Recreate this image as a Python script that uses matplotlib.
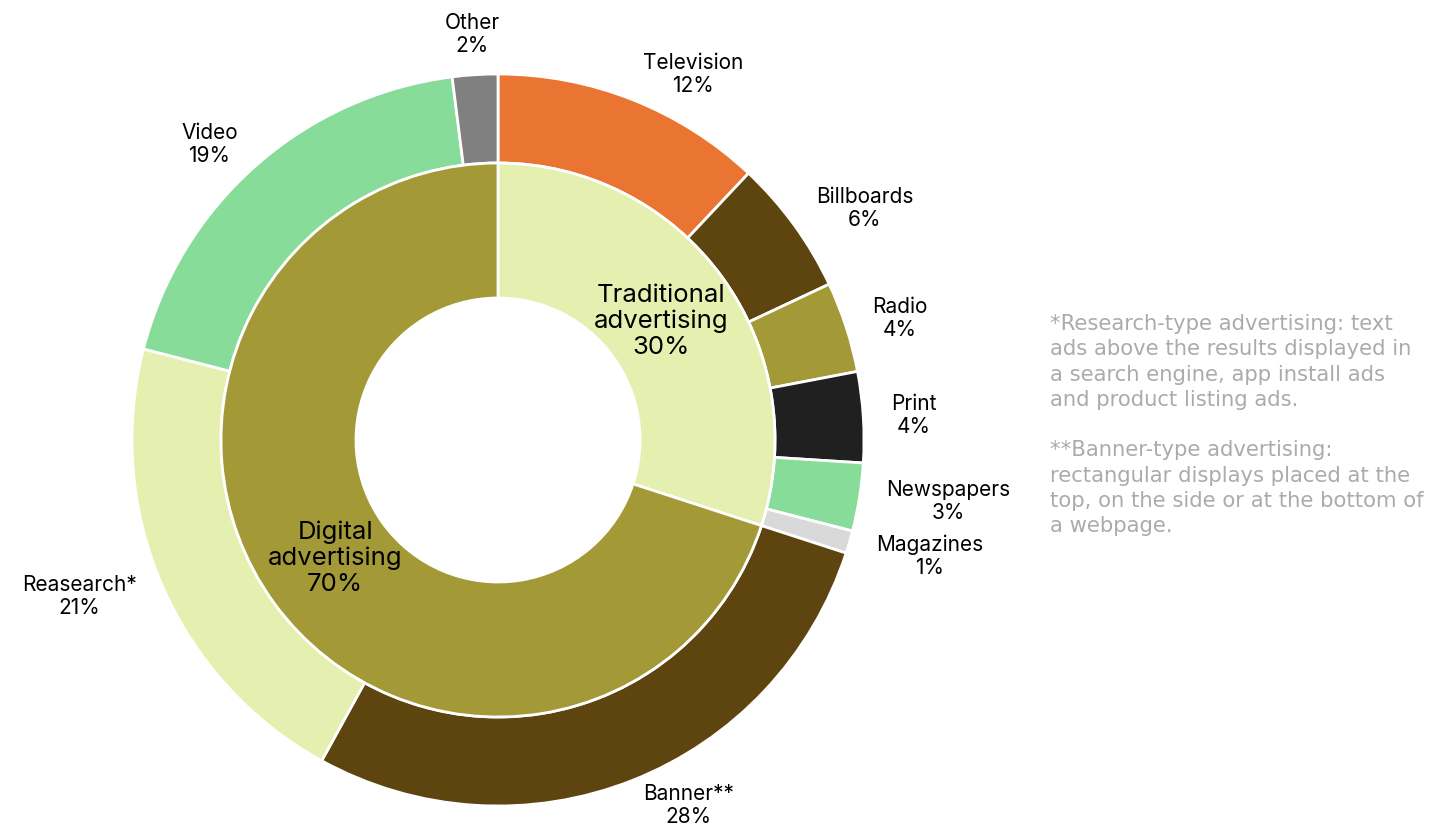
import numpy as np
import matplotlib.pyplot as plt

# data
outer_labels = ['Television', 'Billboards', 'Radio', 'Print', 'Newspapers',
                'Magazines', 'Banner**', 'Reasearch*', 'Video', 'Other']
outer_values = [12, 6, 4, 4, 3, 1, 28, 21, 19, 2]
outer_colors = ['#EA7432', '#5E4510', '#A39A37', '#202020', '#88DC9A',
                '#D9D9D9', '#5E4510', '#E5F0B0', '#88DC9A', '#808080']

inner_labels = ['Traditional\nadvertising', 'Digital\nadvertising']
inner_values = [30, 70]
inner_colors = ['#E5F0B0', '#A39A37']

note = ("*Research-type advertising: text\n"
        "ads above the results displayed in\n"
        "a search engine, app install ads\n"
        "and product listing ads.\n"
        "\n"
        "**Banner-type advertising:\n"
        "rectangular displays placed at the\n"
        "top, on the side or at the bottom of\n"
        "a webpage.")

plt.rcParams['font.family'] = ['Inter', 'DejaVu Sans']

W, H = 1442, 832
fig = plt.figure(figsize=(W / 100, H / 100), dpi=100)

# square axes, unit radius = 366 px, center at (498, 440) from top
L = 1.25
S = 2 * L * 366
cx, cy = 498, H - 440
ax = fig.add_axes([(cx - S / 2) / W, (cy - S / 2) / H, S / W, S / H])

r_mid = 277 / 366
r_hole = 142 / 366

ax.pie(outer_values, radius=1, colors=outer_colors, startangle=90, counterclock=False,
       wedgeprops=dict(width=1 - r_mid, edgecolor='white', linewidth=2))
ax.pie(inner_values, radius=r_mid, colors=inner_colors, startangle=90, counterclock=False,
       wedgeprops=dict(width=r_mid - r_hole, edgecolor='white', linewidth=2))
ax.set_xlim(-L, L)
ax.set_ylim(-L, L)
ax.set_aspect('equal')
ax.axis('off')

# outer labels, positioned from slice angles
total = sum(outer_values)
cum = 0
placed = []
for lab, v in zip(outer_labels, outer_values):
    mid = (cum + v / 2) / total * 2 * np.pi
    cum += v
    s = np.sin(mid)
    if abs(s) < 0.2:
        r, ha = 1.11, 'center'
    else:
        r, ha = 1.075, ('left' if s > 0 else 'right')
    placed.append([lab, v, r * s, r * np.cos(mid), ha])

# simple overlap avoidance on the right side
right = sorted([p for p in placed if p[4] == 'left'], key=lambda p: -p[3])
for a, b in zip(right, right[1:]):
    if a[3] - b[3] < 0.15:
        b[3] = a[3] - 0.15

for lab, v, x, y, ha in placed:
    ax.text(x, y, f'{lab}\n{v}%', ha=ha, va='center', ma='center', fontsize=15,
            color='black', linespacing=1.2, clip_on=False)

# inner labels
cum = 0
for lab, v in zip(inner_labels, inner_values):
    mid = (cum + v / 2) / sum(inner_values) * 2 * np.pi
    cum += v
    r = 0.55
    x, y = r * np.sin(mid), r * np.cos(mid)
    ax.text(x, y, f'{lab}\n{v}%', ha='center', va='center', fontsize=18.5,
            color='black', linespacing=1.15)

fig.text(1050 / W, 1 - 314 / H, note, ha='left', va='top', fontsize=15.2,
         color='#ABABAB', family=['DejaVu Sans'], linespacing=1.33)

fig.savefig('out.png', dpi=100, facecolor='white')
